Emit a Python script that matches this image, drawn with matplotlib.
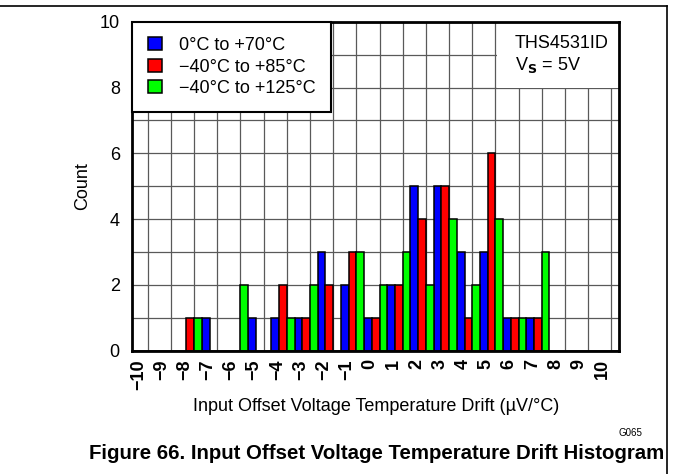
import numpy as np
import matplotlib
matplotlib.use('Agg')
import matplotlib.pyplot as plt
from matplotlib.lines import Line2D
from matplotlib.patches import Rectangle
import matplotlib.transforms as mtransforms

plt.rcParams['font.family'] = ['Liberation Sans', 'DejaVu Sans']

# drift bins (uV/degC) and device counts per temperature range
bins = np.arange(-10, 11)
count_0_70 = [0, 0, 0, 1, 0, 1, 1, 1, 3, 2, 1, 2, 5, 5, 3, 3, 1, 1, 0, 0, 0]
count_m40_85 = [0, 0, 1, 0, 0, 0, 2, 1, 2, 3, 1, 2, 4, 5, 1, 6, 1, 1, 0, 0, 0]
count_m40_125 = [0, 0, 1, 0, 2, 0, 1, 2, 0, 3, 2, 3, 2, 4, 2, 4, 1, 3, 0, 0, 0]
series_labels = ['0°C to +70°C', '\u221240°C to +85°C', '\u221240°C to +125°C']
tick_labels = [str(b).replace('-', '\u2212') for b in bins]

FS = 13

fig = plt.figure(figsize=(6.73, 4.74), dpi=100)
ax = fig.add_axes([0.1966, 0.2601, 0.7232, 0.6941])

w = 1 / 3
series = [count_0_70, count_m40_85, count_m40_125]
colors = ['#0000ff', '#ff0000', '#00ff00']
for i, (vals, col, lab) in enumerate(zip(series, colors, series_labels)):
    ax.bar(bins + (i - 1) * w, vals, width=w, color=col, edgecolor='black',
           linewidth=1.1, label=lab, zorder=3)

ax.set_xlim(-10.5, 10.5)
ax.set_ylim(0, 10)

# grid: vertical lines sit on the red/green boundary of each bin
ax.set_xticks(bins)
ax.set_xticks(bins + 1 / 6, minor=True)
ax.set_xticklabels(tick_labels, rotation=90, fontsize=FS, fontweight='bold')
ax.set_yticks(np.arange(0, 11, 2))
ax.set_yticks(np.arange(1, 10, 2), minor=True)
ax.tick_params(axis='y', labelsize=FS, length=0, pad=9)
ax.tick_params(axis='x', length=0, pad=6)
ax.tick_params(which='minor', length=0)
ax.grid(True, axis='y', which='both', color='0.35', linewidth=0.9, zorder=1)
ax.grid(True, axis='x', which='minor', color='0.35', linewidth=0.9, zorder=1)
ax.set_axisbelow(True)

shift = mtransforms.ScaledTranslation(-4 / 72, 0, fig.dpi_scale_trans)
for lbl in ax.get_xticklabels():
    lbl.set_transform(lbl.get_transform() + shift)

for sp in ax.spines.values():
    sp.set_linewidth(2.0)
    sp.set_zorder(5)

# white block behind device note
ax.add_patch(Rectangle((5.25, 8), 5.25, 2, facecolor='white', edgecolor='none', zorder=2))
ax.text(6.0, 9.35, 'THS4531ID', fontsize=FS, va='center', ha='left', zorder=4)
ax.text(6.0, 8.68, r'V$_\mathbf{S}$ = 5V', fontsize=FS, va='center', ha='left', zorder=4)

leg = ax.legend(loc='upper left', bbox_to_anchor=(0, 1), borderaxespad=0,
                fontsize=FS, fancybox=False, framealpha=1, edgecolor='black',
                borderpad=0.85, labelspacing=0.25, handlelength=0.8,
                handleheight=0.7, handletextpad=0.95)
leg.get_frame().set_linewidth(1.5)
leg.set_zorder(6)

ax.set_ylabel('Count', fontsize=FS)
ax.yaxis.set_label_coords(-0.085, 0.5)
ax.set_xlabel('Input Offset Voltage Temperature Drift (µV/°C)', fontsize=FS)
ax.xaxis.set_label_coords(0.5, -0.145)

fig.text(642 / 673, 1 - 433 / 474, 'G065', fontsize=7, ha='right', va='center')
fig.text(377 / 673, 1 - 453.5 / 474,
         'Figure 66. Input Offset Voltage Temperature Drift Histogram',
         fontsize=14.7, fontweight='bold', ha='center', va='center')

# page frame lines
fig.add_artist(Line2D([0, 0.991], [0.987, 0.987], color='black', linewidth=1.2,
                      transform=fig.transFigure))
fig.add_artist(Line2D([0.991, 0.991], [0, 0.987], color='black', linewidth=1.2,
                      transform=fig.transFigure))

fig.savefig('out.png', dpi=100)
